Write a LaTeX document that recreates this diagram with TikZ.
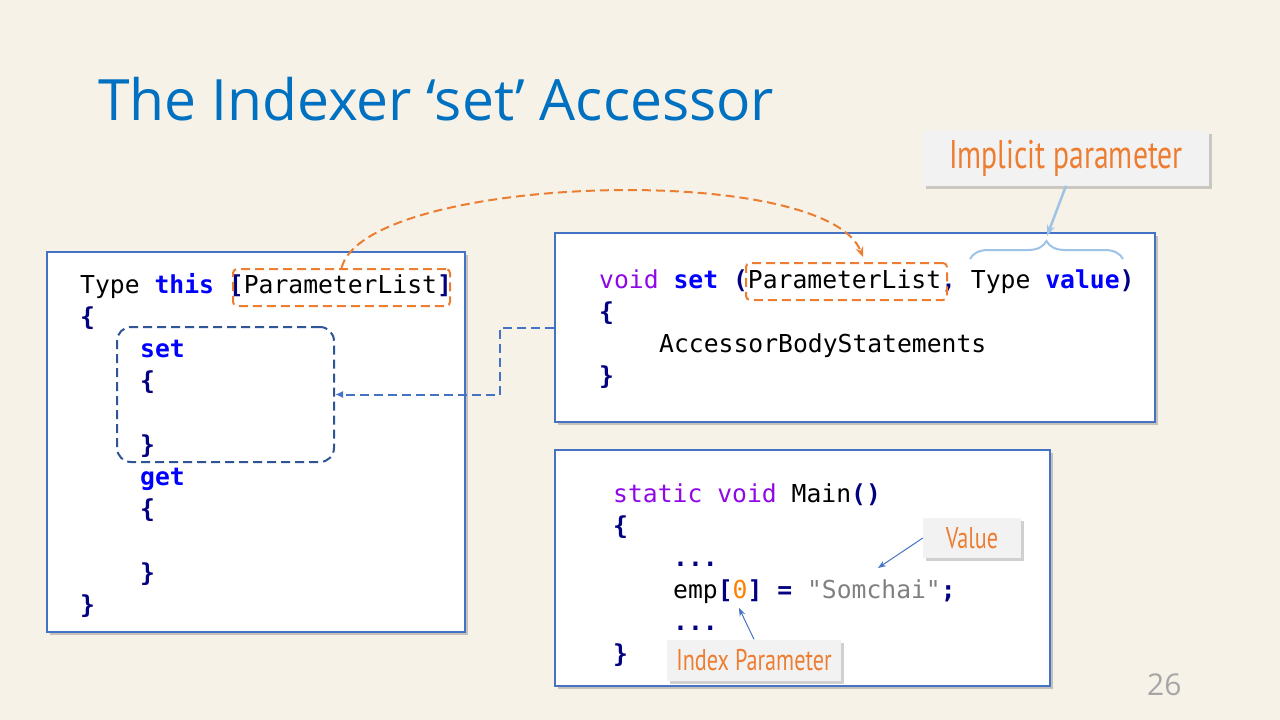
\documentclass[tikz,border=0pt]{standalone}
\usepackage{fontspec}
\setmainfont{Open Sans}
\setmonofont{DejaVu Sans Mono}
\newfontfamily\narrowfont[FakeStretch=0.74]{PT Sans}
\usetikzlibrary{arrows.meta,shadows,decorations.pathreplacing}

\definecolor{paper}{RGB}{246,242,232}
\definecolor{frameblue}{RGB}{68,114,196}
\definecolor{darkblue}{RGB}{47,85,151}
\definecolor{titleblue}{RGB}{0,112,192}
\definecolor{kwblue}{RGB}{0,0,255}
\definecolor{kwpurple}{RGB}{143,8,230}
\definecolor{navy}{RGB}{0,0,128}
\definecolor{hiorange}{RGB}{237,125,49}
\definecolor{numorange}{RGB}{255,128,0}
\definecolor{strgray}{RGB}{128,128,128}
\definecolor{braceblue}{RGB}{157,195,230}
\definecolor{tagfill}{RGB}{242,242,242}

\newcommand{\kwd}[1]{{\bfseries\color{kwblue}#1}}
\newcommand{\pur}[1]{{\color{kwpurple}#1}}
\newcommand{\nav}[1]{{\bfseries\color{navy}#1}}

\tikzset{
  codebox/.style={draw=frameblue, line width=1.2pt, fill=white,
    drop shadow={shadow xshift=3pt, shadow yshift=-3pt, opacity=.35, fill=black!60}},
  tagbox/.style={fill=tagfill, text=hiorange, font=\narrowfont\fontsize{30}{34}\selectfont,
    drop shadow={shadow xshift=3pt, shadow yshift=-3pt, opacity=.3, fill=black!60}},
  orangebox/.style={draw=hiorange, dash pattern=on 9pt off 5pt, line width=2pt, rounded corners=4pt},
  code/.style={anchor=base west, inner sep=0pt, font=\ttfamily\fontsize{24.7}{32}\selectfont}
}

\begin{document}
\begin{tikzpicture}[x=1pt, y=-1pt]
\fill[paper] (0,0) rectangle (1280,720);
\useasboundingbox (0,0) rectangle (1280,720);

\node[anchor=base west, inner sep=0pt, text=titleblue, font=\fontsize{57}{66}\selectfont] (title) at (98,120) {The Indexer ‘set’ Accessor};

% code boxes
\node[codebox, minimum width=418pt, minimum height=380pt] (indexer) at (256,442) {};
\node[codebox, minimum width=600pt, minimum height=189pt] (signature) at (855,327.5) {};
\node[codebox, minimum width=495pt, minimum height=236pt] (mainbox) at (802.5,568) {};

% indexer declaration
\begin{scope}[every node/.style={code}]
    \node (i1) at (80,293) {Type \kwd{this} \nav{[}ParameterList\nav{]}};
    \node (i2) at (80,325) {\nav{\{}};
    \node (i3) at (140,357) {\kwd{set}};
    \node (i4) at (140,389) {\nav{\{}};
    \node (i5) at (140,453) {\nav{\}}};
    \node (i6) at (140,485) {\kwd{get}};
    \node (i7) at (140,517) {\nav{\{}};
    \node (i8) at (140,581) {\nav{\}}};
    \node (i9) at (80,613) {\nav{\}}};

    \node (s1) at (599,288) {\pur{void} \kwd{set} \nav{(}ParameterList\nav{,} Type \kwd{value}\nav{)}};
    \node (s2) at (599,320) {\nav{\{}};
    \node (s3) at (659,352) {AccessorBodyStatements};
    \node (s4) at (599,384) {\nav{\}}};

    \node (m1) at (613,502) {\pur{static} \pur{void} Main\nav{()}};
    \node (m2) at (613,534) {\nav{\{}};
    \node (m3) at (673,566) {\nav{...}};
    \node (m4) at (673,598) {emp\nav{[}{\color{numorange}0}\nav{]} \nav{=} {\color{strgray}"Somchai"}\nav{;}};
    \node (m5) at (673,630) {\nav{...}};
    \node (m6) at (613,662) {\nav{\}}};
\end{scope}

% highlights
\node[orangebox, minimum width=217pt, minimum height=37pt] (plistA) at (341.5,287.5) {};
\node[orangebox, minimum width=201pt, minimum height=37pt] (plistB) at (846.5,281.5) {};
\node[draw=darkblue, dash pattern=on 9pt off 5pt, line width=2pt, rounded corners=14pt,
      minimum width=217pt, minimum height=135pt] (setblock) at (225.5,394.5) {};

\draw[hiorange, dash pattern=on 9pt off 5pt, line width=2pt, -{Stealth[length=10pt,width=8pt]}]
    (plistA.north) .. controls (365,175) and (825,160) .. (863,257);
\draw[frameblue, dash pattern=on 9pt off 5pt, line width=2pt, -{Latex[length=8pt,width=7pt]}]
    (signature.west) -- ++(-54,0) |- (setblock.east);

% tags
\node[tagbox, font=\narrowfont\fontsize{40}{46}\selectfont, minimum width=286pt, minimum height=55pt] (implicit) at (1066,158) {Implicit parameter};
\node[tagbox, minimum width=98pt, minimum height=40pt] (valtag) at (972,538) {Value};
\node[tagbox, minimum width=174pt, minimum height=41pt] (idxtag) at (754,660) {Index Parameter};

\draw[braceblue, line width=2pt, decorate, decoration={brace, amplitude=18pt}] (970,259) -- (1123,259);
\coordinate (bracetip) at (1047,236);
\coordinate (valtip) at (878,568);
\coordinate (idxtip) at (739,608);
\draw[braceblue, line width=2.5pt, -{Stealth[length=11pt,width=8pt]}] (implicit.south) -- (bracetip);
\draw[frameblue, line width=1pt, -{Stealth[length=8pt,width=6pt]}] (valtag.west) -- (valtip);
\draw[frameblue, line width=1pt, -{Stealth[length=8pt,width=6pt]}] (idxtag.north) -- (idxtip);

\node[anchor=base west, inner sep=0pt, text=black!35, font=\fontsize{30}{36}\selectfont] (pageno) at (1147,695) {26};
\end{tikzpicture}
\end{document}
